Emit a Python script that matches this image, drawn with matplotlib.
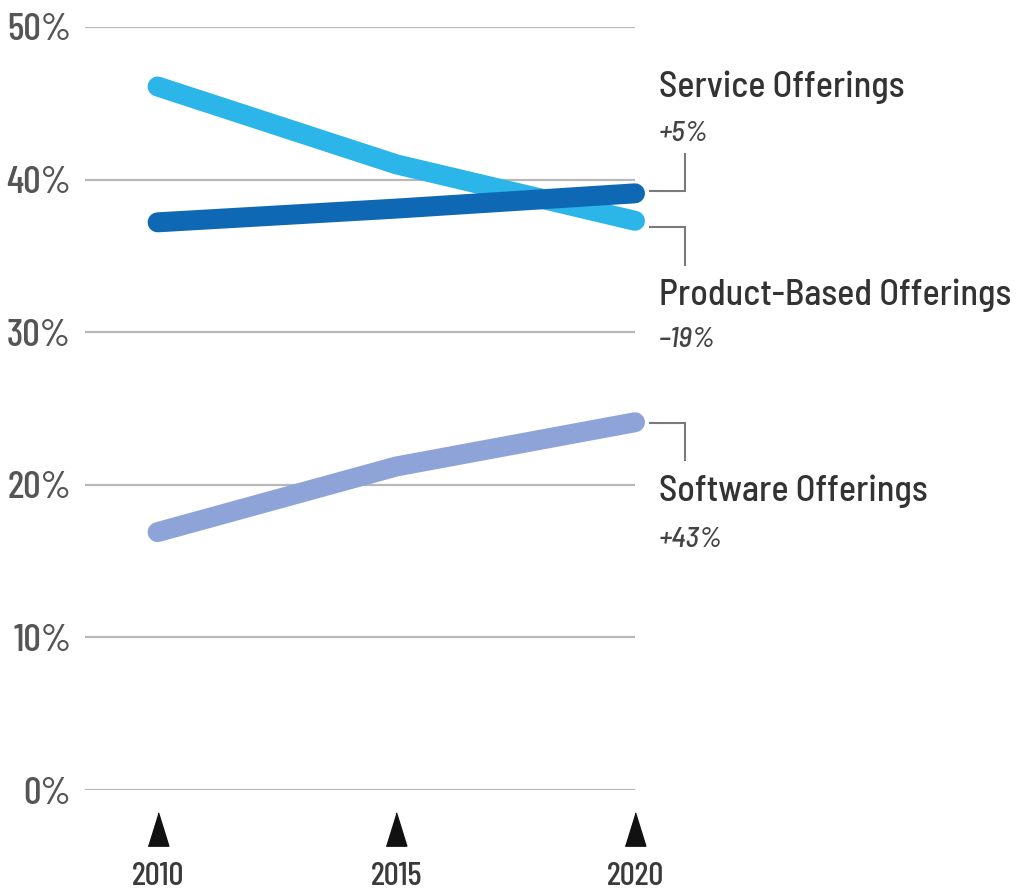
import matplotlib
matplotlib.use("Agg")
import matplotlib.pyplot as plt
from matplotlib.transforms import blended_transform_factory

# ---- data ----
years = [2010, 2015, 2020]
year_labels = ["2010", "2015", "2020"]
product_based = [46.1, 41.0, 37.3]
service = [37.2, 38.1, 39.1]
software = [16.9, 21.2, 24.1]
y_ticks = [0, 10, 20, 30, 40, 50]
y_tick_labels = ["0%", "10%", "20%", "30%", "40%", "50%"]
series_names = ["Service Offerings", "Product-Based Offerings", "Software Offerings"]
series_changes = ["+5%", "\u201319%", "+43%"]

plt.rcParams["font.family"] = ["Barlow Semi Condensed", "DejaVu Sans"]

W, H = 1017, 893
fig = plt.figure(figsize=(W / 100, H / 100), dpi=100)
ax = fig.add_axes([85 / W, (H - 790) / H, 550 / W, 763 / H])
ax.set_xlim(2010 + (85 - 158) / 48, 2010 + (635 - 158) / 48)
ax.set_ylim(0, 50)

def px(x, y):
    return 2010 + (x - 158) / 48, (790 - y) / 15.26

for s in ax.spines.values():
    s.set_visible(False)

ax.set_yticks(y_ticks)
ax.set_yticklabels(y_tick_labels, family=["Barlow Condensed", "DejaVu Sans"], weight=500)
ax.yaxis.grid(True, color="#b8b8b8", linewidth=1.6)
ax.set_axisbelow(True)
ax.tick_params(axis="y", length=0, pad=10, labelsize=28, labelcolor="#555555")
ax.set_xticks(years)
ax.set_xticklabels(year_labels, family=["Barlow Condensed", "DejaVu Sans"], weight=500)
ax.tick_params(axis="x", length=0, pad=52, labelsize=24, labelcolor="#3a3a3a")

lw = 14.4
ax.plot(years, software, color="#8ea4d9", lw=lw, solid_capstyle="round",
        solid_joinstyle="round", clip_on=False, zorder=3)
ax.plot(years, product_based, color="#2bb5e8", lw=lw, solid_capstyle="round",
        solid_joinstyle="round", clip_on=False, zorder=4)
ax.plot(years, service, color="#0f68b3", lw=lw, solid_capstyle="round",
        solid_joinstyle="round", clip_on=False, zorder=5)

# triangles under x ticks
tri = [(-0.62, -1.0), (0.62, -1.0), (0.0, 1.0)]
trans = blended_transform_factory(ax.transData, ax.transAxes)
ax.plot(years, [(790 - 829) / 763] * 3, linestyle="none", marker=tri,
        markersize=24, color="#111111", transform=trans, clip_on=False)

# brackets
bcol = "#7a7a7a"
def bracket(y_h, y_v):
    x0, yh = px(653, y_h)
    x1, yv = px(688, y_v)
    ax.plot([x0, x1, x1], [yh, yh, yv], color=bcol, lw=1.5, clip_on=False,
            solid_joinstyle="miter")

bracket(191, 154)
bracket(227, 265)
bracket(423, 460)

tcol = "#333333"
label_pos = [(87, 134), (295, 340), (491, 540)]
for name, chg, (yn, yc) in zip(series_names, series_changes, label_pos):
    xn, yy = px(662, yn)
    ax.text(xn, yy, name, fontsize=26, weight=500, color=tcol, va="center",
            ha="left", clip_on=False)
    xc, yy2 = px(662, yc)
    ax.text(xc, yy2, chg, fontsize=21, weight=500, color="#444444", style="italic",
            va="center", ha="left", clip_on=False)

fig.savefig("out.png", dpi=100, facecolor="white")
